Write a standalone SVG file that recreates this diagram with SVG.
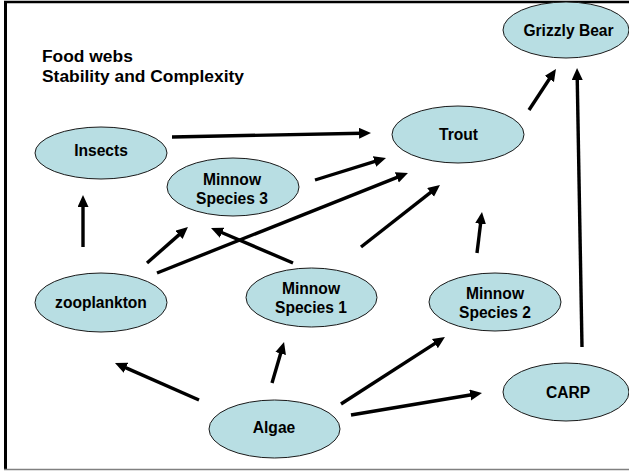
<svg xmlns="http://www.w3.org/2000/svg" width="629" height="471" viewBox="0 0 629 471">
<style>
.n ellipse{fill:#b8dee3;stroke:#1a1a1a;stroke-width:1}
.n text{font-family:"Liberation Sans",Arial,sans-serif;font-weight:bold;font-size:15.6px;fill:#000;text-anchor:middle}
.t{font-family:"Liberation Sans",Arial,sans-serif;font-weight:bold;font-size:17.4px;fill:#000}
#edges line{stroke:#000;stroke-width:3.4;marker-end:url(#ah)}
</style>
<defs>
<marker id="ah" markerUnits="userSpaceOnUse" markerWidth="13" markerHeight="12" refX="3" refY="5.5" orient="auto">
<path d="M0,0 L12,5.5 L0,11 z" fill="#000"/>
</marker>
</defs>
<rect width="629" height="471" fill="#fff"/>
<g id="frame">
<line x1="5.5" y1="1" x2="5.5" y2="470" stroke="#000" stroke-width="3"/>
<line x1="4" y1="2" x2="629" y2="2" stroke="#000" stroke-width="2.5"/>
<line x1="4" y1="469.5" x2="629" y2="469.5" stroke="#808080" stroke-width="1.5"/>
</g>
<g id="title">
<text class="t" x="42" y="62">Food webs</text>
<text class="t" x="42" y="82">Stability and Complexity</text>
</g>
<g id="edges">
<line x1="172" y1="137" x2="362" y2="133.2"/>
<line x1="83" y1="247" x2="83" y2="204"/>
<line x1="315" y1="180" x2="377.4" y2="160.7"/>
<line x1="157" y1="273" x2="399.6" y2="176.3"/>
<line x1="147" y1="263" x2="181.2" y2="232.9"/>
<line x1="293" y1="263" x2="219.3" y2="231.5"/>
<line x1="361" y1="247" x2="432.9" y2="190.6"/>
<line x1="477" y1="253" x2="480.9" y2="220.9"/>
<line x1="529" y1="110" x2="551" y2="76.5"/>
<line x1="582" y1="347" x2="577.2" y2="77"/>
<line x1="199" y1="400" x2="123.2" y2="366.6"/>
<line x1="272" y1="383" x2="281.5" y2="350.6"/>
<line x1="341" y1="404" x2="437.4" y2="341.9"/>
<line x1="351" y1="415" x2="473.1" y2="394.5"/>
</g>
<g id="grizzly" class="n"><ellipse cx="566" cy="30" rx="63" ry="28"/><text x="568.5" y="36">Grizzly Bear</text></g>
<g id="trout" class="n"><ellipse cx="458" cy="134.5" rx="66" ry="28.5"/><text x="458.5" y="140">Trout</text></g>
<g id="insects" class="n"><ellipse cx="101" cy="153" rx="66" ry="26"/><text x="101" y="156">Insects</text></g>
<g id="minnow3" class="n"><ellipse cx="233" cy="187" rx="66" ry="29"/><text x="232" y="185">Minnow</text><text x="232" y="204">Species 3</text></g>
<g id="zooplankton" class="n"><ellipse cx="101" cy="302.5" rx="66" ry="29.5"/><text x="101" y="308">zooplankton</text></g>
<g id="minnow1" class="n"><ellipse cx="311.5" cy="297.5" rx="65.5" ry="29.5"/><text x="311" y="293.5">Minnow</text><text x="311" y="312.5">Species 1</text></g>
<g id="minnow2" class="n"><ellipse cx="495" cy="302" rx="66" ry="29"/><text x="495" y="298.5">Minnow</text><text x="495" y="318">Species 2</text></g>
<g id="carp" class="n"><ellipse cx="566" cy="392" rx="63" ry="29"/><text x="568" y="398">CARP</text></g>
<g id="algae" class="n"><ellipse cx="274.5" cy="429" rx="65.5" ry="29"/><text x="274" y="433">Algae</text></g>
</svg>
